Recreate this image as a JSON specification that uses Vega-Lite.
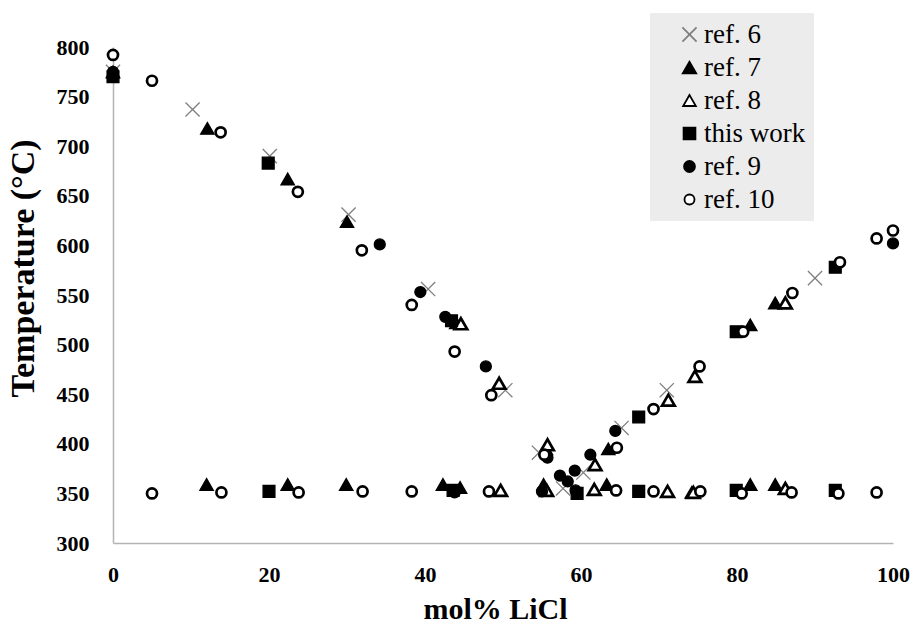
{
  "$schema": "https://vega.github.io/schema/vega-lite/v6.json",
  "width": 780,
  "height": 496,
  "autosize": {"type": "none"},
  "padding": {"left": 113, "top": 47, "right": 20, "bottom": 81},
  "background": "white",
  "config": {
    "view": {"stroke": null},
    "legend": {
      "title": null, "orient": "none", "legendX": 537, "legendY": -34,
      "fillColor": "#ececec", "padding": 8, "rowPadding": 5,
      "symbolOffset": 18, "labelOffset": 1, "symbolStrokeWidth": 1.8,
      "labelFont": "Liberation Serif", "labelFontSize": 27, "labelColor": "#000"
    }
  },
  "data": {"values": [
    {"x": 0, "t": 775, "s": "ref. 6"},
    {"x": 10.2, "t": 737, "s": "ref. 6"},
    {"x": 20.1, "t": 690, "s": "ref. 6"},
    {"x": 30.2, "t": 631, "s": "ref. 6"},
    {"x": 40.4, "t": 556, "s": "ref. 6"},
    {"x": 50.3, "t": 454, "s": "ref. 6"},
    {"x": 54.6, "t": 391, "s": "ref. 6"},
    {"x": 57.7, "t": 355, "s": "ref. 6"},
    {"x": 60.3, "t": 371, "s": "ref. 6"},
    {"x": 65.2, "t": 416, "s": "ref. 6"},
    {"x": 71, "t": 454, "s": "ref. 6"},
    {"x": 90, "t": 567, "s": "ref. 6"},
    {"x": 0, "t": 775, "s": "ref. 7"},
    {"x": 12.1, "t": 718, "s": "ref. 7"},
    {"x": 22.4, "t": 667, "s": "ref. 7"},
    {"x": 30, "t": 624, "s": "ref. 7"},
    {"x": 44, "t": 522, "s": "ref. 7"},
    {"x": 55.5, "t": 395, "s": "ref. 7"},
    {"x": 63.5, "t": 395, "s": "ref. 7"},
    {"x": 81.7, "t": 520, "s": "ref. 7"},
    {"x": 84.9, "t": 542, "s": "ref. 7"},
    {"x": 12, "t": 359, "s": "ref. 7"},
    {"x": 22.4, "t": 359, "s": "ref. 7"},
    {"x": 29.9, "t": 359, "s": "ref. 7"},
    {"x": 42.3, "t": 359, "s": "ref. 7"},
    {"x": 44.5, "t": 356, "s": "ref. 7"},
    {"x": 55.2, "t": 359, "s": "ref. 7"},
    {"x": 63.3, "t": 359, "s": "ref. 7"},
    {"x": 74.2, "t": 351, "s": "ref. 7"},
    {"x": 81.7, "t": 359, "s": "ref. 7"},
    {"x": 84.9, "t": 359, "s": "ref. 7"},
    {"x": 44.6, "t": 521, "s": "ref. 8"},
    {"x": 49.5, "t": 461, "s": "ref. 8"},
    {"x": 55.7, "t": 399, "s": "ref. 8"},
    {"x": 61.8, "t": 379, "s": "ref. 8"},
    {"x": 71.2, "t": 444, "s": "ref. 8"},
    {"x": 74.6, "t": 468, "s": "ref. 8"},
    {"x": 86.2, "t": 542, "s": "ref. 8"},
    {"x": 49.7, "t": 353, "s": "ref. 8"},
    {"x": 55.6, "t": 353, "s": "ref. 8"},
    {"x": 61.7, "t": 354, "s": "ref. 8"},
    {"x": 71.1, "t": 352, "s": "ref. 8"},
    {"x": 74.4, "t": 351, "s": "ref. 8"},
    {"x": 86.2, "t": 355, "s": "ref. 8"},
    {"x": 0, "t": 770, "s": "this work"},
    {"x": 19.9, "t": 683, "s": "this work"},
    {"x": 43.4, "t": 524, "s": "this work"},
    {"x": 67.4, "t": 427, "s": "this work"},
    {"x": 79.9, "t": 513, "s": "this work"},
    {"x": 92.6, "t": 578, "s": "this work"},
    {"x": 20, "t": 352, "s": "this work"},
    {"x": 43.6, "t": 353, "s": "this work"},
    {"x": 59.5, "t": 350, "s": "this work"},
    {"x": 67.4, "t": 352, "s": "this work"},
    {"x": 79.9, "t": 353, "s": "this work"},
    {"x": 92.6, "t": 353, "s": "this work"},
    {"x": 0, "t": 775, "s": "ref. 9"},
    {"x": 34.2, "t": 601, "s": "ref. 9"},
    {"x": 39.4, "t": 553, "s": "ref. 9"},
    {"x": 42.6, "t": 528, "s": "ref. 9"},
    {"x": 47.8, "t": 478, "s": "ref. 9"},
    {"x": 55.7, "t": 386, "s": "ref. 9"},
    {"x": 57.3, "t": 368, "s": "ref. 9"},
    {"x": 58.3, "t": 362, "s": "ref. 9"},
    {"x": 59.2, "t": 373, "s": "ref. 9"},
    {"x": 61.2, "t": 389, "s": "ref. 9"},
    {"x": 64.4, "t": 413, "s": "ref. 9"},
    {"x": 100, "t": 602, "s": "ref. 9"},
    {"x": 43.8, "t": 351, "s": "ref. 9"},
    {"x": 55, "t": 352, "s": "ref. 9"},
    {"x": 59.3, "t": 353, "s": "ref. 9"},
    {"x": 0, "t": 792, "s": "ref. 10"},
    {"x": 5, "t": 766, "s": "ref. 10"},
    {"x": 13.8, "t": 714, "s": "ref. 10"},
    {"x": 23.7, "t": 654, "s": "ref. 10"},
    {"x": 31.9, "t": 595, "s": "ref. 10"},
    {"x": 38.3, "t": 540, "s": "ref. 10"},
    {"x": 43.8, "t": 493, "s": "ref. 10"},
    {"x": 48.5, "t": 449, "s": "ref. 10"},
    {"x": 55.3, "t": 389, "s": "ref. 10"},
    {"x": 64.6, "t": 396, "s": "ref. 10"},
    {"x": 69.3, "t": 435, "s": "ref. 10"},
    {"x": 75.2, "t": 478, "s": "ref. 10"},
    {"x": 80.8, "t": 513, "s": "ref. 10"},
    {"x": 87.1, "t": 552, "s": "ref. 10"},
    {"x": 93.2, "t": 583, "s": "ref. 10"},
    {"x": 97.9, "t": 607, "s": "ref. 10"},
    {"x": 100, "t": 615, "s": "ref. 10"},
    {"x": 5, "t": 350, "s": "ref. 10"},
    {"x": 13.9, "t": 351, "s": "ref. 10"},
    {"x": 23.8, "t": 351, "s": "ref. 10"},
    {"x": 32, "t": 352, "s": "ref. 10"},
    {"x": 38.3, "t": 352, "s": "ref. 10"},
    {"x": 48.2, "t": 352, "s": "ref. 10"},
    {"x": 64.5, "t": 353, "s": "ref. 10"},
    {"x": 69.3, "t": 352, "s": "ref. 10"},
    {"x": 75.3, "t": 352, "s": "ref. 10"},
    {"x": 80.6, "t": 350, "s": "ref. 10"},
    {"x": 87, "t": 351, "s": "ref. 10"},
    {"x": 93, "t": 350, "s": "ref. 10"},
    {"x": 97.9, "t": 351, "s": "ref. 10"}
  ]},
  "mark": {"type": "point", "opacity": 1, "clip": false},
  "encoding": {
    "x": {
      "field": "x", "type": "quantitative",
      "scale": {"domain": [0, 100], "nice": false, "zero": false},
      "axis": {
        "title": "mol% LiCl", "values": [0, 20, 40, 60, 80, 100],
        "grid": false, "ticks": false, "domainColor": "#b3b3b3", "domainWidth": 1.5,
        "labelFont": "Liberation Serif", "labelFontWeight": "bold", "labelFontSize": 22, "labelColor": "#000",
        "labelPadding": 21, "labelFlush": false,
        "titleFont": "Liberation Serif", "titleFontWeight": "bold", "titleFontSize": 30, "titleColor": "#000",
        "titlePadding": 9, "titleX": 382
      }
    },
    "y": {
      "field": "t", "type": "quantitative",
      "scale": {"domain": [300, 800], "nice": false, "zero": false},
      "axis": {
        "title": "Temperature (°C)", "values": [300, 350, 400, 450, 500, 550, 600, 650, 700, 750, 800],
        "grid": false, "ticks": false, "domainColor": "#b3b3b3", "domainWidth": 1.5,
        "labelFont": "Liberation Serif", "labelFontWeight": "bold", "labelFontSize": 22, "labelColor": "#000",
        "labelPadding": 24,
        "titleFont": "Liberation Serif", "titleFontWeight": "bold", "titleFontSize": 34, "titleColor": "#000",
        "titlePadding": 16, "titleY": 221
      }
    },
    "shape": {
      "field": "s", "type": "nominal",
      "scale": {
        "domain": ["ref. 6", "ref. 7", "ref. 8", "this work", "ref. 9", "ref. 10"],
        "range": ["M-1,-1L1,1M-1,1L1,-1", "triangle-up", "triangle-up", "square", "circle", "circle"]
      },
      "legend": {"labelExpr": "datum.label + '\u2003\u2003'"}
    },
    "fill": {
      "field": "s", "type": "nominal",
      "scale": {
        "domain": ["ref. 6", "ref. 7", "ref. 8", "this work", "ref. 9", "ref. 10"],
        "range": ["transparent", "#000000", "#ffffff", "#000000", "#000000", "#ffffff"]
      },
      "legend": {"labelExpr": "datum.label + '\u2003\u2003'"}
    },
    "stroke": {
      "field": "s", "type": "nominal",
      "scale": {
        "domain": ["ref. 6", "ref. 7", "ref. 8", "this work", "ref. 9", "ref. 10"],
        "range": ["#7f7f7f", "#000000", "#000000", "#000000", "#000000", "#000000"]
      },
      "legend": {"labelExpr": "datum.label + '\u2003\u2003'"}
    },
    "strokeWidth": {
      "condition": {"test": "datum.s === 'ref. 8' || datum.s === 'ref. 10'", "value": 2.7},
      "value": 1.3
    },
    "size": {
      "field": "s", "type": "ordinal",
      "scale": {
        "domain": ["ref. 6", "ref. 7", "ref. 8", "this work", "ref. 9", "ref. 10"],
        "range": [200, 100, 70, 100, 130, 85]
      },
      "legend": {"labelExpr": "datum.label + '\u2003\u2003'"}
    }
  }
}
